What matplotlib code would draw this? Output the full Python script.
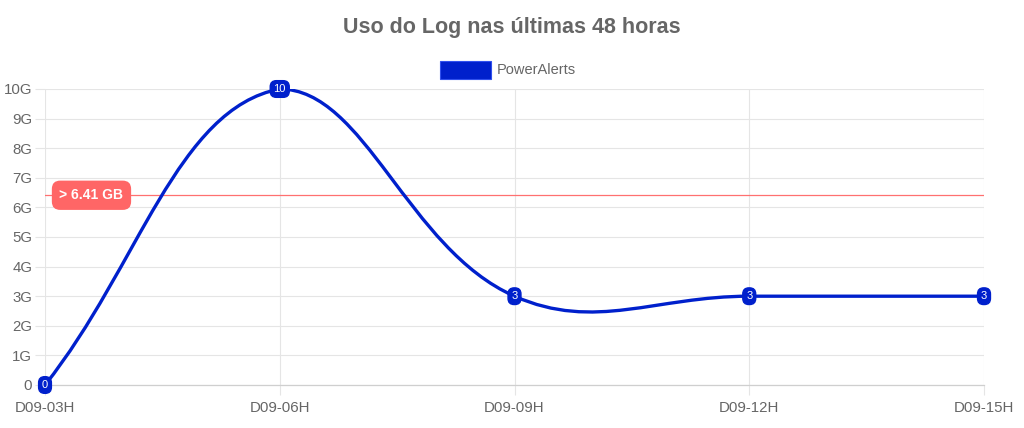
import numpy as np
import matplotlib
matplotlib.use("Agg")
from matplotlib import pyplot as plt
from matplotlib.path import Path
from matplotlib.patches import PathPatch, Rectangle
import matplotlib.transforms as mtransforms

plt.rcParams['font.family'] = ['Liberation Sans', 'DejaVu Sans']

title = "Uso do Log nas últimas 48 horas"
series_name = "PowerAlerts"
x_labels = ["D09-03H", "D09-06H", "D09-09H", "D09-12H", "D09-15H"]
values = [0, 10, 3, 3, 3]
y_ticks = [0, 1, 2, 3, 4, 5, 6, 7, 8, 9, 10]
y_tick_labels = ["0", "1G", "2G", "3G", "4G", "5G", "6G", "7G", "8G", "9G", "10G"]
threshold = 6.41
threshold_label = "> 6.41 GB"

blue = "#0020cc"
grey_text = "#666666"
grid_col = "#e5e5e5"


def spline_path(ax, xs, ys, tension=0.4):
    """Cubic spline like Chart.js (tension 0.4), computed in pixel space."""
    pts = ax.transData.transform(np.column_stack([xs, ys]))
    (ax0, ay0), (ax1, ay1) = ax.transAxes.transform([(0, 0), (1, 1)])
    n = len(pts)
    cps = []
    for i in range(n):
        prev = pts[max(i - 1, 0)]
        cur = pts[i]
        nxt = pts[min(i + 1, n - 1)]
        d01 = np.hypot(*(cur - prev))
        d12 = np.hypot(*(nxt - cur))
        tot = d01 + d12
        s01 = d01 / tot if tot else 0
        s12 = d12 / tot if tot else 0
        c1 = cur - tension * s01 * (nxt - prev)
        c2 = cur + tension * s12 * (nxt - prev)
        c1 = np.clip(c1, [ax0, ay0], [ax1, ay1])
        c2 = np.clip(c2, [ax0, ay0], [ax1, ay1])
        cps.append((c1, c2))
    verts = [pts[0]]
    codes = [Path.MOVETO]
    for i in range(n - 1):
        verts += [cps[i][1], cps[i + 1][0], pts[i + 1]]
        codes += [Path.CURVE4] * 3
    verts = ax.transData.inverted().transform(np.array(verts))
    return Path(verts, codes)


fig = plt.figure(figsize=(10.24, 4.28), dpi=100)
ax = fig.add_axes([45 / 1024, 1 - 385 / 428, 939 / 1024, 296 / 428])

xs = np.arange(len(values))
ax.set_xlim(0, len(values) - 1)
ax.set_ylim(0, 10)
ax.set_xticks(xs)
ax.set_xticklabels(x_labels)
ax.set_yticks(y_ticks)
ax.set_yticklabels(y_tick_labels)

for s in ax.spines.values():
    s.set_visible(False)
ax.grid(True, color=grid_col, lw=0.8)
ax.set_axisbelow(True)
ax.axhline(0, color="#cfcfcf", lw=0.9, zorder=1, clip_on=False)
ax.tick_params(axis="both", length=7.2, width=0.8, color=grid_col,
               labelcolor=grey_text, labelsize=10.8)
ax.tick_params(axis="y", pad=2)
ax.tick_params(axis="x", pad=4)

# threshold line + label
ax.axhline(threshold, color="#ff7070", lw=0.9, zorder=2)
trans = mtransforms.blended_transform_factory(ax.transAxes, ax.transData)
ax.text(0.0495, threshold, threshold_label, transform=trans, ha="center", va="center",
        color="white", fontsize=10, fontweight="bold", zorder=6,
        bbox=dict(boxstyle="round,pad=0.55,rounding_size=0.6", fc="#ff6666", ec="none"))

# series line
path = spline_path(ax, xs, values)
ax.add_patch(PathPatch(path, fill=False, edgecolor=blue, lw=2.4, zorder=4,
                       capstyle="round", joinstyle="round"))

for x, v in zip(xs, values):
    ax.text(x, v, str(v), ha="center", va="center", color="white", fontsize=8,
            zorder=5, clip_on=False,
            bbox=dict(boxstyle="round,pad=0.3,rounding_size=0.55", fc=blue, ec=blue, lw=1))

# title and legend
fig.text(0.5, 1 - 27 / 428, title, ha="center", va="center", fontsize=15.5,
         fontweight="bold", color=grey_text)
fig.add_artist(Rectangle((440 / 1024, 1 - 79 / 428), 51 / 1024, 18 / 428,
                         transform=fig.transFigure, fc=blue, ec="#3050ee", lw=0.8))
fig.text(497 / 1024, 1 - 70 / 428, series_name, ha="left", va="center",
         fontsize=10.5, color=grey_text)

fig.savefig("out.png", dpi=100)
